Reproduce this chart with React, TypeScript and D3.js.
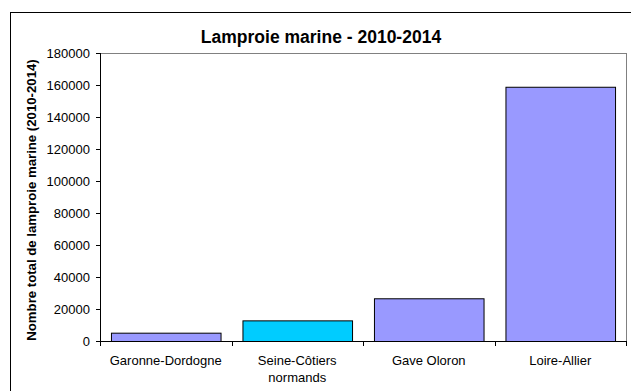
import React from "react";
import * as d3 from "d3";

const categories = ["Garonne-Dordogne", "Seine-Côtiers normands", "Gave Oloron", "Loire-Allier"];
const categoryLines = [["Garonne-Dordogne"], ["Seine-Côtiers", "normands"], ["Gave Oloron"], ["Loire-Allier"]];
const values = [5200, 12900, 26700, 158900];
const barColors = ["#9999FF", "#00CCFF", "#9999FF", "#9999FF"];
const yTicks = [0, 20000, 40000, 60000, 80000, 100000, 120000, 140000, 160000, 180000];
const title = "Lamproie marine - 2010-2014";
const yTitle = "Nombre total de lamproie marine (2010-2014)";

const W = 631;
const H = 391;
const plot = { left: 100, right: 626, top: 53, bottom: 341 };
const font = "Arial, 'Liberation Sans', sans-serif";

export default function App() {
  const x = d3
    .scaleBand<string>()
    .domain(categories)
    .range([plot.left, plot.right])
    .paddingInner(1 - 1 / 1.2)
    .paddingOuter((1 - 1 / 1.2) / 2);
  const y = d3.scaleLinear().domain([0, 180000]).range([plot.bottom, plot.top]);
  const step = x.step();

  return (
    <svg
      width={W}
      height={H}
      style={{ position: "absolute", left: 0, top: 0, display: "block", background: "#fff" }}
    >
      <rect x={0} y={0} width={W} height={H} fill="#fff" />
      {/* outer chart frame */}
      <rect x={10.5} y={12.5} width={W + 20} height={H + 20} fill="none" stroke="#000" strokeWidth={1} />
      <text x={321} y={43} textAnchor="middle" fontFamily={font} fontWeight="bold" fontSize={17.5} fill="#000">
        {title}
      </text>
      {/* plot frame */}
      <rect
        x={plot.left + 0.5}
        y={plot.top + 0.5}
        width={plot.right - plot.left}
        height={plot.bottom - plot.top}
        fill="none"
        stroke="#808080"
        strokeWidth={1}
      />
      {/* bars */}
      {categories.map((c, i) => (
        <rect
          key={c}
          x={(x(c) as number) + 0.5}
          y={y(values[i]) + 0.5}
          width={x.bandwidth()}
          height={plot.bottom - y(values[i])}
          fill={barColors[i]}
          stroke="#000"
          strokeWidth={1}
        />
      ))}
      {/* y axis */}
      <line x1={plot.left + 0.5} x2={plot.left + 0.5} y1={plot.top} y2={plot.bottom + 1} stroke="#000" />
      {yTicks.map((t) => (
        <g key={t}>
          <line x1={plot.left - 4} x2={plot.left} y1={Math.round(y(t)) + 0.5} y2={Math.round(y(t)) + 0.5} stroke="#000" />
          <text
            x={90}
            y={y(t)}
            dy="0.35em"
            textAnchor="end"
            fontFamily={font}
            fontSize={13}
            fill="#000"
          >
            {t}
          </text>
        </g>
      ))}
      {/* x axis */}
      <line x1={plot.left} x2={plot.right + 1} y1={plot.bottom + 0.5} y2={plot.bottom + 0.5} stroke="#000" />
      {d3.range(categories.length + 1).map((i) => (
        <line
          key={i}
          x1={Math.round(plot.left + i * step) + 0.5}
          x2={Math.round(plot.left + i * step) + 0.5}
          y1={plot.bottom}
          y2={plot.bottom + 5}
          stroke="#000"
        />
      ))}
      {categories.map((c, i) => (
        <text
          key={c}
          x={(x(c) as number) + x.bandwidth() / 2}
          y={365}
          textAnchor="middle"
          fontFamily={font}
          fontSize={13}
          fill="#000"
        >
          {categoryLines[i].map((l, j) => (
            <tspan key={j} x={(x(c) as number) + x.bandwidth() / 2} dy={j === 0 ? 0 : 17}>
              {l}
            </tspan>
          ))}
        </text>
      ))}
      {/* y title */}
      <text
        transform={`translate(36, ${(plot.top + plot.bottom) / 2 + 3}) rotate(-90)`}
        textAnchor="middle"
        fontFamily={font}
        fontWeight="bold"
        fontSize={13.2}
        fill="#000"
      >
        {yTitle}
      </text>
    </svg>
  );
}
